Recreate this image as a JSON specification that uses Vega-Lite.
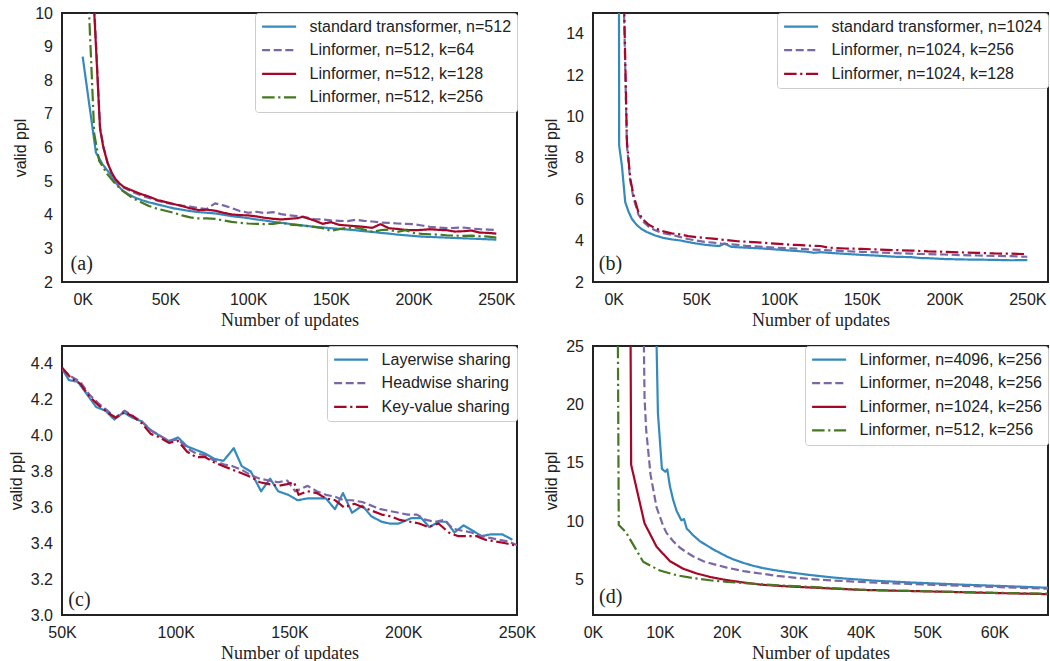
{
  "$schema": "https://vega.github.io/schema/vega-lite/v6.json",
  "background": "white",
  "padding": {"left": 7, "top": 4, "right": 0, "bottom": 0},
  "config": {
    "font": "Liberation Sans",
    "view": {"stroke": "#222222", "strokeWidth": 2},
    "axis": {"domain": false, "ticks": false, "grid": false, "tickCount": 30, "labelFont": "Liberation Sans", "labelFontSize": 16, "labelColor": "#222222", "labelPadding": 9.5, "labelFlush": false, "labelOverlap": false, "titleFontWeight": "normal", "titleColor": "#222222"},
    "axisX": {"titleFont": "Liberation Serif", "titleFontSize": 18, "titlePadding": 4},
    "axisY": {"titleFont": "Liberation Sans", "titleFontSize": 16, "titlePadding": 6},
    "legend": {"orient": "top-right", "offset": 0, "padding": 5.6, "strokeColor": "#cccccc", "fillColor": "#ffffff", "cornerRadius": 3, "labelFont": "Liberation Sans", "labelFontSize": 16, "labelColor": "#222222", "labelLimit": 400, "labelOffset": 12, "rowPadding": 7.6, "clipHeight": 16, "symbolSize": 1156, "symbolStrokeWidth": 2.2, "symbolType": "stroke"},
    "line": {"strokeWidth": 2.2, "clip": true, "strokeJoin": "round"}
  },
  "datasets": {
    "a": [
      {"series": "standard transformer, n=512", "updates": 0, "ppl": 8.7},
      {"series": "standard transformer, n=512", "updates": 8000, "ppl": 5.85},
      {"series": "standard transformer, n=512", "updates": 12000, "ppl": 5.5},
      {"series": "standard transformer, n=512", "updates": 16000, "ppl": 5.25},
      {"series": "standard transformer, n=512", "updates": 20000, "ppl": 4.95},
      {"series": "standard transformer, n=512", "updates": 24000, "ppl": 4.72},
      {"series": "standard transformer, n=512", "updates": 28000, "ppl": 4.6},
      {"series": "standard transformer, n=512", "updates": 32000, "ppl": 4.5},
      {"series": "standard transformer, n=512", "updates": 36000, "ppl": 4.43},
      {"series": "standard transformer, n=512", "updates": 40000, "ppl": 4.37},
      {"series": "standard transformer, n=512", "updates": 45000, "ppl": 4.31},
      {"series": "standard transformer, n=512", "updates": 50000, "ppl": 4.25},
      {"series": "standard transformer, n=512", "updates": 55000, "ppl": 4.19},
      {"series": "standard transformer, n=512", "updates": 60000, "ppl": 4.15},
      {"series": "standard transformer, n=512", "updates": 65000, "ppl": 4.11},
      {"series": "standard transformer, n=512", "updates": 70000, "ppl": 4.08},
      {"series": "standard transformer, n=512", "updates": 75000, "ppl": 4.06},
      {"series": "standard transformer, n=512", "updates": 80000, "ppl": 4.04},
      {"series": "standard transformer, n=512", "updates": 85000, "ppl": 4.0},
      {"series": "standard transformer, n=512", "updates": 90000, "ppl": 3.96},
      {"series": "standard transformer, n=512", "updates": 95000, "ppl": 3.93},
      {"series": "standard transformer, n=512", "updates": 100000, "ppl": 3.9},
      {"series": "standard transformer, n=512", "updates": 105000, "ppl": 3.86},
      {"series": "standard transformer, n=512", "updates": 110000, "ppl": 3.83},
      {"series": "standard transformer, n=512", "updates": 115000, "ppl": 3.79},
      {"series": "standard transformer, n=512", "updates": 120000, "ppl": 3.76},
      {"series": "standard transformer, n=512", "updates": 125000, "ppl": 3.73},
      {"series": "standard transformer, n=512", "updates": 130000, "ppl": 3.7},
      {"series": "standard transformer, n=512", "updates": 135000, "ppl": 3.67},
      {"series": "standard transformer, n=512", "updates": 140000, "ppl": 3.64},
      {"series": "standard transformer, n=512", "updates": 145000, "ppl": 3.62},
      {"series": "standard transformer, n=512", "updates": 150000, "ppl": 3.6},
      {"series": "standard transformer, n=512", "updates": 155000, "ppl": 3.58},
      {"series": "standard transformer, n=512", "updates": 160000, "ppl": 3.56},
      {"series": "standard transformer, n=512", "updates": 165000, "ppl": 3.54},
      {"series": "standard transformer, n=512", "updates": 170000, "ppl": 3.51},
      {"series": "standard transformer, n=512", "updates": 175000, "ppl": 3.49},
      {"series": "standard transformer, n=512", "updates": 180000, "ppl": 3.46},
      {"series": "standard transformer, n=512", "updates": 185000, "ppl": 3.44},
      {"series": "standard transformer, n=512", "updates": 190000, "ppl": 3.41},
      {"series": "standard transformer, n=512", "updates": 195000, "ppl": 3.39},
      {"series": "standard transformer, n=512", "updates": 200000, "ppl": 3.37},
      {"series": "standard transformer, n=512", "updates": 205000, "ppl": 3.35},
      {"series": "standard transformer, n=512", "updates": 210000, "ppl": 3.34},
      {"series": "standard transformer, n=512", "updates": 215000, "ppl": 3.33},
      {"series": "standard transformer, n=512", "updates": 220000, "ppl": 3.32},
      {"series": "standard transformer, n=512", "updates": 225000, "ppl": 3.31},
      {"series": "standard transformer, n=512", "updates": 230000, "ppl": 3.3},
      {"series": "standard transformer, n=512", "updates": 235000, "ppl": 3.29},
      {"series": "standard transformer, n=512", "updates": 240000, "ppl": 3.28},
      {"series": "standard transformer, n=512", "updates": 245000, "ppl": 3.27},
      {"series": "standard transformer, n=512", "updates": 250000, "ppl": 3.26},

      {"series": "Linformer, n=512, k=64", "updates": 6000, "ppl": 11.2},
      {"series": "Linformer, n=512, k=64", "updates": 10500, "ppl": 6.6},
      {"series": "Linformer, n=512, k=64", "updates": 12500, "ppl": 6.05},
      {"series": "Linformer, n=512, k=64", "updates": 15000, "ppl": 5.55},
      {"series": "Linformer, n=512, k=64", "updates": 17500, "ppl": 5.25},
      {"series": "Linformer, n=512, k=64", "updates": 20000, "ppl": 5.0},
      {"series": "Linformer, n=512, k=64", "updates": 25000, "ppl": 4.8},
      {"series": "Linformer, n=512, k=64", "updates": 30000, "ppl": 4.68},
      {"series": "Linformer, n=512, k=64", "updates": 35000, "ppl": 4.58},
      {"series": "Linformer, n=512, k=64", "updates": 40000, "ppl": 4.5},
      {"series": "Linformer, n=512, k=64", "updates": 45000, "ppl": 4.42},
      {"series": "Linformer, n=512, k=64", "updates": 50000, "ppl": 4.36},
      {"series": "Linformer, n=512, k=64", "updates": 55000, "ppl": 4.31},
      {"series": "Linformer, n=512, k=64", "updates": 60000, "ppl": 4.27},
      {"series": "Linformer, n=512, k=64", "updates": 65000, "ppl": 4.24},
      {"series": "Linformer, n=512, k=64", "updates": 70000, "ppl": 4.2},
      {"series": "Linformer, n=512, k=64", "updates": 75000, "ppl": 4.17},
      {"series": "Linformer, n=512, k=64", "updates": 80000, "ppl": 4.34},
      {"series": "Linformer, n=512, k=64", "updates": 85000, "ppl": 4.28},
      {"series": "Linformer, n=512, k=64", "updates": 90000, "ppl": 4.2},
      {"series": "Linformer, n=512, k=64", "updates": 95000, "ppl": 4.11},
      {"series": "Linformer, n=512, k=64", "updates": 100000, "ppl": 4.06},
      {"series": "Linformer, n=512, k=64", "updates": 105000, "ppl": 4.09},
      {"series": "Linformer, n=512, k=64", "updates": 110000, "ppl": 4.05},
      {"series": "Linformer, n=512, k=64", "updates": 115000, "ppl": 4.08},
      {"series": "Linformer, n=512, k=64", "updates": 120000, "ppl": 4.02},
      {"series": "Linformer, n=512, k=64", "updates": 125000, "ppl": 3.98},
      {"series": "Linformer, n=512, k=64", "updates": 130000, "ppl": 3.96},
      {"series": "Linformer, n=512, k=64", "updates": 135000, "ppl": 3.92},
      {"series": "Linformer, n=512, k=64", "updates": 140000, "ppl": 3.87},
      {"series": "Linformer, n=512, k=64", "updates": 145000, "ppl": 3.86},
      {"series": "Linformer, n=512, k=64", "updates": 150000, "ppl": 3.83},
      {"series": "Linformer, n=512, k=64", "updates": 155000, "ppl": 3.82},
      {"series": "Linformer, n=512, k=64", "updates": 160000, "ppl": 3.81},
      {"series": "Linformer, n=512, k=64", "updates": 165000, "ppl": 3.85},
      {"series": "Linformer, n=512, k=64", "updates": 170000, "ppl": 3.82},
      {"series": "Linformer, n=512, k=64", "updates": 175000, "ppl": 3.8},
      {"series": "Linformer, n=512, k=64", "updates": 180000, "ppl": 3.77},
      {"series": "Linformer, n=512, k=64", "updates": 185000, "ppl": 3.76},
      {"series": "Linformer, n=512, k=64", "updates": 190000, "ppl": 3.74},
      {"series": "Linformer, n=512, k=64", "updates": 195000, "ppl": 3.73},
      {"series": "Linformer, n=512, k=64", "updates": 200000, "ppl": 3.72},
      {"series": "Linformer, n=512, k=64", "updates": 205000, "ppl": 3.68},
      {"series": "Linformer, n=512, k=64", "updates": 210000, "ppl": 3.64},
      {"series": "Linformer, n=512, k=64", "updates": 215000, "ppl": 3.62},
      {"series": "Linformer, n=512, k=64", "updates": 220000, "ppl": 3.6},
      {"series": "Linformer, n=512, k=64", "updates": 225000, "ppl": 3.61},
      {"series": "Linformer, n=512, k=64", "updates": 230000, "ppl": 3.62},
      {"series": "Linformer, n=512, k=64", "updates": 235000, "ppl": 3.59},
      {"series": "Linformer, n=512, k=64", "updates": 240000, "ppl": 3.57},
      {"series": "Linformer, n=512, k=64", "updates": 245000, "ppl": 3.56},
      {"series": "Linformer, n=512, k=64", "updates": 250000, "ppl": 3.55},

      {"series": "Linformer, n=512, k=128", "updates": 6000, "ppl": 11.0},
      {"series": "Linformer, n=512, k=128", "updates": 10500, "ppl": 6.55},
      {"series": "Linformer, n=512, k=128", "updates": 12500, "ppl": 6.0},
      {"series": "Linformer, n=512, k=128", "updates": 15000, "ppl": 5.55},
      {"series": "Linformer, n=512, k=128", "updates": 17500, "ppl": 5.25},
      {"series": "Linformer, n=512, k=128", "updates": 20000, "ppl": 5.05},
      {"series": "Linformer, n=512, k=128", "updates": 22500, "ppl": 4.92},
      {"series": "Linformer, n=512, k=128", "updates": 25000, "ppl": 4.82},
      {"series": "Linformer, n=512, k=128", "updates": 30000, "ppl": 4.72},
      {"series": "Linformer, n=512, k=128", "updates": 35000, "ppl": 4.62},
      {"series": "Linformer, n=512, k=128", "updates": 40000, "ppl": 4.54},
      {"series": "Linformer, n=512, k=128", "updates": 45000, "ppl": 4.44},
      {"series": "Linformer, n=512, k=128", "updates": 50000, "ppl": 4.38},
      {"series": "Linformer, n=512, k=128", "updates": 55000, "ppl": 4.32},
      {"series": "Linformer, n=512, k=128", "updates": 60000, "ppl": 4.26},
      {"series": "Linformer, n=512, k=128", "updates": 65000, "ppl": 4.19},
      {"series": "Linformer, n=512, k=128", "updates": 70000, "ppl": 4.14},
      {"series": "Linformer, n=512, k=128", "updates": 75000, "ppl": 4.15},
      {"series": "Linformer, n=512, k=128", "updates": 80000, "ppl": 4.12},
      {"series": "Linformer, n=512, k=128", "updates": 85000, "ppl": 4.06},
      {"series": "Linformer, n=512, k=128", "updates": 90000, "ppl": 4.01},
      {"series": "Linformer, n=512, k=128", "updates": 95000, "ppl": 3.99},
      {"series": "Linformer, n=512, k=128", "updates": 100000, "ppl": 3.98},
      {"series": "Linformer, n=512, k=128", "updates": 105000, "ppl": 3.95},
      {"series": "Linformer, n=512, k=128", "updates": 110000, "ppl": 3.91},
      {"series": "Linformer, n=512, k=128", "updates": 115000, "ppl": 3.88},
      {"series": "Linformer, n=512, k=128", "updates": 120000, "ppl": 3.86},
      {"series": "Linformer, n=512, k=128", "updates": 125000, "ppl": 3.88},
      {"series": "Linformer, n=512, k=128", "updates": 130000, "ppl": 3.9},
      {"series": "Linformer, n=512, k=128", "updates": 133000, "ppl": 3.94},
      {"series": "Linformer, n=512, k=128", "updates": 140000, "ppl": 3.83},
      {"series": "Linformer, n=512, k=128", "updates": 145000, "ppl": 3.73},
      {"series": "Linformer, n=512, k=128", "updates": 150000, "ppl": 3.78},
      {"series": "Linformer, n=512, k=128", "updates": 155000, "ppl": 3.7},
      {"series": "Linformer, n=512, k=128", "updates": 160000, "ppl": 3.68},
      {"series": "Linformer, n=512, k=128", "updates": 165000, "ppl": 3.66},
      {"series": "Linformer, n=512, k=128", "updates": 170000, "ppl": 3.64},
      {"series": "Linformer, n=512, k=128", "updates": 175000, "ppl": 3.61},
      {"series": "Linformer, n=512, k=128", "updates": 180000, "ppl": 3.72},
      {"series": "Linformer, n=512, k=128", "updates": 185000, "ppl": 3.6},
      {"series": "Linformer, n=512, k=128", "updates": 190000, "ppl": 3.58},
      {"series": "Linformer, n=512, k=128", "updates": 195000, "ppl": 3.55},
      {"series": "Linformer, n=512, k=128", "updates": 200000, "ppl": 3.54},
      {"series": "Linformer, n=512, k=128", "updates": 205000, "ppl": 3.55},
      {"series": "Linformer, n=512, k=128", "updates": 210000, "ppl": 3.57},
      {"series": "Linformer, n=512, k=128", "updates": 215000, "ppl": 3.55},
      {"series": "Linformer, n=512, k=128", "updates": 220000, "ppl": 3.54},
      {"series": "Linformer, n=512, k=128", "updates": 225000, "ppl": 3.5},
      {"series": "Linformer, n=512, k=128", "updates": 230000, "ppl": 3.51},
      {"series": "Linformer, n=512, k=128", "updates": 235000, "ppl": 3.53},
      {"series": "Linformer, n=512, k=128", "updates": 240000, "ppl": 3.47},
      {"series": "Linformer, n=512, k=128", "updates": 245000, "ppl": 3.46},
      {"series": "Linformer, n=512, k=128", "updates": 250000, "ppl": 3.44},

      {"series": "Linformer, n=512, k=256", "updates": 3000, "ppl": 11.0},
      {"series": "Linformer, n=512, k=256", "updates": 7000, "ppl": 6.4},
      {"series": "Linformer, n=512, k=256", "updates": 10000, "ppl": 5.6},
      {"series": "Linformer, n=512, k=256", "updates": 15000, "ppl": 5.2},
      {"series": "Linformer, n=512, k=256", "updates": 20000, "ppl": 4.9},
      {"series": "Linformer, n=512, k=256", "updates": 25000, "ppl": 4.68},
      {"series": "Linformer, n=512, k=256", "updates": 30000, "ppl": 4.5},
      {"series": "Linformer, n=512, k=256", "updates": 35000, "ppl": 4.38},
      {"series": "Linformer, n=512, k=256", "updates": 40000, "ppl": 4.26},
      {"series": "Linformer, n=512, k=256", "updates": 45000, "ppl": 4.18},
      {"series": "Linformer, n=512, k=256", "updates": 50000, "ppl": 4.12},
      {"series": "Linformer, n=512, k=256", "updates": 55000, "ppl": 4.06},
      {"series": "Linformer, n=512, k=256", "updates": 60000, "ppl": 3.98},
      {"series": "Linformer, n=512, k=256", "updates": 65000, "ppl": 3.92},
      {"series": "Linformer, n=512, k=256", "updates": 70000, "ppl": 3.89},
      {"series": "Linformer, n=512, k=256", "updates": 75000, "ppl": 3.89},
      {"series": "Linformer, n=512, k=256", "updates": 80000, "ppl": 3.88},
      {"series": "Linformer, n=512, k=256", "updates": 85000, "ppl": 3.83},
      {"series": "Linformer, n=512, k=256", "updates": 90000, "ppl": 3.79},
      {"series": "Linformer, n=512, k=256", "updates": 95000, "ppl": 3.76},
      {"series": "Linformer, n=512, k=256", "updates": 100000, "ppl": 3.74},
      {"series": "Linformer, n=512, k=256", "updates": 105000, "ppl": 3.73},
      {"series": "Linformer, n=512, k=256", "updates": 110000, "ppl": 3.72},
      {"series": "Linformer, n=512, k=256", "updates": 115000, "ppl": 3.73},
      {"series": "Linformer, n=512, k=256", "updates": 120000, "ppl": 3.77},
      {"series": "Linformer, n=512, k=256", "updates": 125000, "ppl": 3.71},
      {"series": "Linformer, n=512, k=256", "updates": 130000, "ppl": 3.69},
      {"series": "Linformer, n=512, k=256", "updates": 135000, "ppl": 3.67},
      {"series": "Linformer, n=512, k=256", "updates": 140000, "ppl": 3.64},
      {"series": "Linformer, n=512, k=256", "updates": 145000, "ppl": 3.6},
      {"series": "Linformer, n=512, k=256", "updates": 150000, "ppl": 3.52},
      {"series": "Linformer, n=512, k=256", "updates": 155000, "ppl": 3.57},
      {"series": "Linformer, n=512, k=256", "updates": 160000, "ppl": 3.61},
      {"series": "Linformer, n=512, k=256", "updates": 165000, "ppl": 3.62},
      {"series": "Linformer, n=512, k=256", "updates": 170000, "ppl": 3.56},
      {"series": "Linformer, n=512, k=256", "updates": 175000, "ppl": 3.49},
      {"series": "Linformer, n=512, k=256", "updates": 180000, "ppl": 3.54},
      {"series": "Linformer, n=512, k=256", "updates": 185000, "ppl": 3.56},
      {"series": "Linformer, n=512, k=256", "updates": 190000, "ppl": 3.49},
      {"series": "Linformer, n=512, k=256", "updates": 195000, "ppl": 3.54},
      {"series": "Linformer, n=512, k=256", "updates": 200000, "ppl": 3.46},
      {"series": "Linformer, n=512, k=256", "updates": 205000, "ppl": 3.43},
      {"series": "Linformer, n=512, k=256", "updates": 210000, "ppl": 3.42},
      {"series": "Linformer, n=512, k=256", "updates": 215000, "ppl": 3.41},
      {"series": "Linformer, n=512, k=256", "updates": 220000, "ppl": 3.39},
      {"series": "Linformer, n=512, k=256", "updates": 225000, "ppl": 3.38},
      {"series": "Linformer, n=512, k=256", "updates": 230000, "ppl": 3.37},
      {"series": "Linformer, n=512, k=256", "updates": 235000, "ppl": 3.38},
      {"series": "Linformer, n=512, k=256", "updates": 240000, "ppl": 3.36},
      {"series": "Linformer, n=512, k=256", "updates": 245000, "ppl": 3.35},
      {"series": "Linformer, n=512, k=256", "updates": 250000, "ppl": 3.32}
    ],
    "b": [
      {"series": "standard transformer, n=1024", "updates": 3000, "ppl": 30},
      {"series": "standard transformer, n=1024", "updates": 3300, "ppl": 8.6},
      {"series": "standard transformer, n=1024", "updates": 5000, "ppl": 7.6},
      {"series": "standard transformer, n=1024", "updates": 7000, "ppl": 5.85},
      {"series": "standard transformer, n=1024", "updates": 9000, "ppl": 5.4},
      {"series": "standard transformer, n=1024", "updates": 11000, "ppl": 5.05},
      {"series": "standard transformer, n=1024", "updates": 14000, "ppl": 4.75},
      {"series": "standard transformer, n=1024", "updates": 17000, "ppl": 4.55},
      {"series": "standard transformer, n=1024", "updates": 20000, "ppl": 4.42},
      {"series": "standard transformer, n=1024", "updates": 25000, "ppl": 4.25},
      {"series": "standard transformer, n=1024", "updates": 30000, "ppl": 4.13},
      {"series": "standard transformer, n=1024", "updates": 35000, "ppl": 4.06},
      {"series": "standard transformer, n=1024", "updates": 40000, "ppl": 4.01},
      {"series": "standard transformer, n=1024", "updates": 45000, "ppl": 3.93},
      {"series": "standard transformer, n=1024", "updates": 50000, "ppl": 3.86},
      {"series": "standard transformer, n=1024", "updates": 55000, "ppl": 3.8},
      {"series": "standard transformer, n=1024", "updates": 60000, "ppl": 3.76},
      {"series": "standard transformer, n=1024", "updates": 64000, "ppl": 3.74},
      {"series": "standard transformer, n=1024", "updates": 67000, "ppl": 3.86},
      {"series": "standard transformer, n=1024", "updates": 71000, "ppl": 3.7},
      {"series": "standard transformer, n=1024", "updates": 75000, "ppl": 3.68},
      {"series": "standard transformer, n=1024", "updates": 80000, "ppl": 3.66},
      {"series": "standard transformer, n=1024", "updates": 90000, "ppl": 3.62},
      {"series": "standard transformer, n=1024", "updates": 100000, "ppl": 3.56},
      {"series": "standard transformer, n=1024", "updates": 110000, "ppl": 3.5},
      {"series": "standard transformer, n=1024", "updates": 117000, "ppl": 3.46},
      {"series": "standard transformer, n=1024", "updates": 121000, "ppl": 3.41},
      {"series": "standard transformer, n=1024", "updates": 125000, "ppl": 3.44},
      {"series": "standard transformer, n=1024", "updates": 130000, "ppl": 3.41},
      {"series": "standard transformer, n=1024", "updates": 140000, "ppl": 3.36},
      {"series": "standard transformer, n=1024", "updates": 150000, "ppl": 3.31},
      {"series": "standard transformer, n=1024", "updates": 160000, "ppl": 3.27},
      {"series": "standard transformer, n=1024", "updates": 170000, "ppl": 3.22},
      {"series": "standard transformer, n=1024", "updates": 180000, "ppl": 3.2},
      {"series": "standard transformer, n=1024", "updates": 185000, "ppl": 3.16},
      {"series": "standard transformer, n=1024", "updates": 190000, "ppl": 3.15},
      {"series": "standard transformer, n=1024", "updates": 200000, "ppl": 3.11},
      {"series": "standard transformer, n=1024", "updates": 210000, "ppl": 3.09},
      {"series": "standard transformer, n=1024", "updates": 220000, "ppl": 3.08},
      {"series": "standard transformer, n=1024", "updates": 230000, "ppl": 3.07},
      {"series": "standard transformer, n=1024", "updates": 240000, "ppl": 3.05},
      {"series": "standard transformer, n=1024", "updates": 250000, "ppl": 3.06},

      {"series": "Linformer, n=1024, k=256", "updates": 6000, "ppl": 16.0},
      {"series": "Linformer, n=1024, k=256", "updates": 8000, "ppl": 8.6},
      {"series": "Linformer, n=1024, k=256", "updates": 10000, "ppl": 6.9},
      {"series": "Linformer, n=1024, k=256", "updates": 12000, "ppl": 6.05},
      {"series": "Linformer, n=1024, k=256", "updates": 15000, "ppl": 5.25},
      {"series": "Linformer, n=1024, k=256", "updates": 18000, "ppl": 4.9},
      {"series": "Linformer, n=1024, k=256", "updates": 21000, "ppl": 4.68},
      {"series": "Linformer, n=1024, k=256", "updates": 25000, "ppl": 4.5},
      {"series": "Linformer, n=1024, k=256", "updates": 30000, "ppl": 4.36},
      {"series": "Linformer, n=1024, k=256", "updates": 35000, "ppl": 4.28},
      {"series": "Linformer, n=1024, k=256", "updates": 40000, "ppl": 4.18},
      {"series": "Linformer, n=1024, k=256", "updates": 45000, "ppl": 4.08},
      {"series": "Linformer, n=1024, k=256", "updates": 50000, "ppl": 4.0},
      {"series": "Linformer, n=1024, k=256", "updates": 55000, "ppl": 3.94},
      {"series": "Linformer, n=1024, k=256", "updates": 60000, "ppl": 3.9},
      {"series": "Linformer, n=1024, k=256", "updates": 65000, "ppl": 3.86},
      {"series": "Linformer, n=1024, k=256", "updates": 70000, "ppl": 3.83},
      {"series": "Linformer, n=1024, k=256", "updates": 75000, "ppl": 3.79},
      {"series": "Linformer, n=1024, k=256", "updates": 80000, "ppl": 3.75},
      {"series": "Linformer, n=1024, k=256", "updates": 90000, "ppl": 3.7},
      {"series": "Linformer, n=1024, k=256", "updates": 100000, "ppl": 3.65},
      {"series": "Linformer, n=1024, k=256", "updates": 110000, "ppl": 3.61},
      {"series": "Linformer, n=1024, k=256", "updates": 120000, "ppl": 3.57},
      {"series": "Linformer, n=1024, k=256", "updates": 130000, "ppl": 3.53},
      {"series": "Linformer, n=1024, k=256", "updates": 140000, "ppl": 3.49},
      {"series": "Linformer, n=1024, k=256", "updates": 150000, "ppl": 3.46},
      {"series": "Linformer, n=1024, k=256", "updates": 160000, "ppl": 3.43},
      {"series": "Linformer, n=1024, k=256", "updates": 170000, "ppl": 3.4},
      {"series": "Linformer, n=1024, k=256", "updates": 180000, "ppl": 3.37},
      {"series": "Linformer, n=1024, k=256", "updates": 190000, "ppl": 3.35},
      {"series": "Linformer, n=1024, k=256", "updates": 200000, "ppl": 3.33},
      {"series": "Linformer, n=1024, k=256", "updates": 210000, "ppl": 3.3},
      {"series": "Linformer, n=1024, k=256", "updates": 220000, "ppl": 3.28},
      {"series": "Linformer, n=1024, k=256", "updates": 230000, "ppl": 3.26},
      {"series": "Linformer, n=1024, k=256", "updates": 240000, "ppl": 3.25},
      {"series": "Linformer, n=1024, k=256", "updates": 250000, "ppl": 3.22},

      {"series": "Linformer, n=1024, k=128", "updates": 6000, "ppl": 16.5},
      {"series": "Linformer, n=1024, k=128", "updates": 8000, "ppl": 8.8},
      {"series": "Linformer, n=1024, k=128", "updates": 10000, "ppl": 7.0},
      {"series": "Linformer, n=1024, k=128", "updates": 12000, "ppl": 6.2},
      {"series": "Linformer, n=1024, k=128", "updates": 15000, "ppl": 5.35},
      {"series": "Linformer, n=1024, k=128", "updates": 18000, "ppl": 5.0},
      {"series": "Linformer, n=1024, k=128", "updates": 21000, "ppl": 4.78},
      {"series": "Linformer, n=1024, k=128", "updates": 25000, "ppl": 4.6},
      {"series": "Linformer, n=1024, k=128", "updates": 30000, "ppl": 4.45},
      {"series": "Linformer, n=1024, k=128", "updates": 35000, "ppl": 4.35},
      {"series": "Linformer, n=1024, k=128", "updates": 40000, "ppl": 4.3},
      {"series": "Linformer, n=1024, k=128", "updates": 45000, "ppl": 4.22},
      {"series": "Linformer, n=1024, k=128", "updates": 50000, "ppl": 4.17},
      {"series": "Linformer, n=1024, k=128", "updates": 55000, "ppl": 4.13},
      {"series": "Linformer, n=1024, k=128", "updates": 60000, "ppl": 4.1},
      {"series": "Linformer, n=1024, k=128", "updates": 65000, "ppl": 4.05},
      {"series": "Linformer, n=1024, k=128", "updates": 70000, "ppl": 4.01},
      {"series": "Linformer, n=1024, k=128", "updates": 75000, "ppl": 3.97},
      {"series": "Linformer, n=1024, k=128", "updates": 80000, "ppl": 3.95},
      {"series": "Linformer, n=1024, k=128", "updates": 90000, "ppl": 3.9},
      {"series": "Linformer, n=1024, k=128", "updates": 100000, "ppl": 3.84},
      {"series": "Linformer, n=1024, k=128", "updates": 110000, "ppl": 3.79},
      {"series": "Linformer, n=1024, k=128", "updates": 120000, "ppl": 3.75},
      {"series": "Linformer, n=1024, k=128", "updates": 125000, "ppl": 3.74},
      {"series": "Linformer, n=1024, k=128", "updates": 130000, "ppl": 3.66},
      {"series": "Linformer, n=1024, k=128", "updates": 140000, "ppl": 3.62},
      {"series": "Linformer, n=1024, k=128", "updates": 150000, "ppl": 3.6},
      {"series": "Linformer, n=1024, k=128", "updates": 160000, "ppl": 3.57},
      {"series": "Linformer, n=1024, k=128", "updates": 170000, "ppl": 3.54},
      {"series": "Linformer, n=1024, k=128", "updates": 180000, "ppl": 3.52},
      {"series": "Linformer, n=1024, k=128", "updates": 190000, "ppl": 3.48},
      {"series": "Linformer, n=1024, k=128", "updates": 200000, "ppl": 3.46},
      {"series": "Linformer, n=1024, k=128", "updates": 210000, "ppl": 3.43},
      {"series": "Linformer, n=1024, k=128", "updates": 220000, "ppl": 3.41},
      {"series": "Linformer, n=1024, k=128", "updates": 230000, "ppl": 3.38},
      {"series": "Linformer, n=1024, k=128", "updates": 240000, "ppl": 3.37},
      {"series": "Linformer, n=1024, k=128", "updates": 250000, "ppl": 3.35}
    ],
    "c": [
      {"series": "Layerwise sharing", "updates": 50000, "ppl": 4.375},
      {"series": "Layerwise sharing", "updates": 53000, "ppl": 4.31},
      {"series": "Layerwise sharing", "updates": 57000, "ppl": 4.3},
      {"series": "Layerwise sharing", "updates": 61000, "ppl": 4.23},
      {"series": "Layerwise sharing", "updates": 65000, "ppl": 4.16},
      {"series": "Layerwise sharing", "updates": 69000, "ppl": 4.14},
      {"series": "Layerwise sharing", "updates": 73000, "ppl": 4.09},
      {"series": "Layerwise sharing", "updates": 77000, "ppl": 4.13},
      {"series": "Layerwise sharing", "updates": 81000, "ppl": 4.1},
      {"series": "Layerwise sharing", "updates": 85000, "ppl": 4.08},
      {"series": "Layerwise sharing", "updates": 89000, "ppl": 4.03},
      {"series": "Layerwise sharing", "updates": 93000, "ppl": 4.0},
      {"series": "Layerwise sharing", "updates": 97000, "ppl": 3.97},
      {"series": "Layerwise sharing", "updates": 101000, "ppl": 3.99},
      {"series": "Layerwise sharing", "updates": 105000, "ppl": 3.94},
      {"series": "Layerwise sharing", "updates": 109000, "ppl": 3.92},
      {"series": "Layerwise sharing", "updates": 113000, "ppl": 3.9},
      {"series": "Layerwise sharing", "updates": 117000, "ppl": 3.87},
      {"series": "Layerwise sharing", "updates": 121000, "ppl": 3.86},
      {"series": "Layerwise sharing", "updates": 125500, "ppl": 3.93},
      {"series": "Layerwise sharing", "updates": 129000, "ppl": 3.83},
      {"series": "Layerwise sharing", "updates": 133000, "ppl": 3.8},
      {"series": "Layerwise sharing", "updates": 137500, "ppl": 3.69},
      {"series": "Layerwise sharing", "updates": 141500, "ppl": 3.76},
      {"series": "Layerwise sharing", "updates": 145000, "ppl": 3.69},
      {"series": "Layerwise sharing", "updates": 149500, "ppl": 3.67},
      {"series": "Layerwise sharing", "updates": 153500, "ppl": 3.64},
      {"series": "Layerwise sharing", "updates": 158000, "ppl": 3.65},
      {"series": "Layerwise sharing", "updates": 162000, "ppl": 3.65},
      {"series": "Layerwise sharing", "updates": 166000, "ppl": 3.65},
      {"series": "Layerwise sharing", "updates": 170000, "ppl": 3.59},
      {"series": "Layerwise sharing", "updates": 173500, "ppl": 3.68},
      {"series": "Layerwise sharing", "updates": 177500, "ppl": 3.57},
      {"series": "Layerwise sharing", "updates": 182000, "ppl": 3.61},
      {"series": "Layerwise sharing", "updates": 186000, "ppl": 3.55},
      {"series": "Layerwise sharing", "updates": 190500, "ppl": 3.52},
      {"series": "Layerwise sharing", "updates": 194000, "ppl": 3.51},
      {"series": "Layerwise sharing", "updates": 198000, "ppl": 3.51},
      {"series": "Layerwise sharing", "updates": 203500, "ppl": 3.54},
      {"series": "Layerwise sharing", "updates": 208000, "ppl": 3.54},
      {"series": "Layerwise sharing", "updates": 211500, "ppl": 3.49},
      {"series": "Layerwise sharing", "updates": 215500, "ppl": 3.52},
      {"series": "Layerwise sharing", "updates": 219000, "ppl": 3.52},
      {"series": "Layerwise sharing", "updates": 222500, "ppl": 3.46},
      {"series": "Layerwise sharing", "updates": 226500, "ppl": 3.5},
      {"series": "Layerwise sharing", "updates": 230500, "ppl": 3.47},
      {"series": "Layerwise sharing", "updates": 234500, "ppl": 3.44},
      {"series": "Layerwise sharing", "updates": 238500, "ppl": 3.45},
      {"series": "Layerwise sharing", "updates": 243500, "ppl": 3.45},
      {"series": "Layerwise sharing", "updates": 248000, "ppl": 3.42},

      {"series": "Headwise sharing", "updates": 50000, "ppl": 4.37},
      {"series": "Headwise sharing", "updates": 54000, "ppl": 4.33},
      {"series": "Headwise sharing", "updates": 58000, "ppl": 4.3},
      {"series": "Headwise sharing", "updates": 62000, "ppl": 4.23},
      {"series": "Headwise sharing", "updates": 66000, "ppl": 4.18},
      {"series": "Headwise sharing", "updates": 70000, "ppl": 4.14},
      {"series": "Headwise sharing", "updates": 73500, "ppl": 4.1},
      {"series": "Headwise sharing", "updates": 77500, "ppl": 4.14},
      {"series": "Headwise sharing", "updates": 81000, "ppl": 4.11},
      {"series": "Headwise sharing", "updates": 85000, "ppl": 4.08},
      {"series": "Headwise sharing", "updates": 89000, "ppl": 4.03},
      {"series": "Headwise sharing", "updates": 93000, "ppl": 4.0},
      {"series": "Headwise sharing", "updates": 97000, "ppl": 3.97},
      {"series": "Headwise sharing", "updates": 101000, "ppl": 3.98},
      {"series": "Headwise sharing", "updates": 105000, "ppl": 3.93},
      {"series": "Headwise sharing", "updates": 109000, "ppl": 3.9},
      {"series": "Headwise sharing", "updates": 113000, "ppl": 3.89},
      {"series": "Headwise sharing", "updates": 117000, "ppl": 3.86},
      {"series": "Headwise sharing", "updates": 121000, "ppl": 3.84},
      {"series": "Headwise sharing", "updates": 125000, "ppl": 3.83},
      {"series": "Headwise sharing", "updates": 129000, "ppl": 3.81},
      {"series": "Headwise sharing", "updates": 133000, "ppl": 3.78},
      {"series": "Headwise sharing", "updates": 137000, "ppl": 3.76},
      {"series": "Headwise sharing", "updates": 141000, "ppl": 3.75},
      {"series": "Headwise sharing", "updates": 145000, "ppl": 3.74},
      {"series": "Headwise sharing", "updates": 149000, "ppl": 3.75},
      {"series": "Headwise sharing", "updates": 152500, "ppl": 3.69},
      {"series": "Headwise sharing", "updates": 158000, "ppl": 3.72},
      {"series": "Headwise sharing", "updates": 162000, "ppl": 3.69},
      {"series": "Headwise sharing", "updates": 166000, "ppl": 3.67},
      {"series": "Headwise sharing", "updates": 170000, "ppl": 3.66},
      {"series": "Headwise sharing", "updates": 174000, "ppl": 3.64},
      {"series": "Headwise sharing", "updates": 177500, "ppl": 3.64},
      {"series": "Headwise sharing", "updates": 182000, "ppl": 3.63},
      {"series": "Headwise sharing", "updates": 186000, "ppl": 3.61},
      {"series": "Headwise sharing", "updates": 190000, "ppl": 3.59},
      {"series": "Headwise sharing", "updates": 194000, "ppl": 3.58},
      {"series": "Headwise sharing", "updates": 198000, "ppl": 3.57},
      {"series": "Headwise sharing", "updates": 202000, "ppl": 3.56},
      {"series": "Headwise sharing", "updates": 206000, "ppl": 3.56},
      {"series": "Headwise sharing", "updates": 210000, "ppl": 3.53},
      {"series": "Headwise sharing", "updates": 214000, "ppl": 3.52},
      {"series": "Headwise sharing", "updates": 218000, "ppl": 3.53},
      {"series": "Headwise sharing", "updates": 222000, "ppl": 3.48},
      {"series": "Headwise sharing", "updates": 226000, "ppl": 3.47},
      {"series": "Headwise sharing", "updates": 230000, "ppl": 3.46},
      {"series": "Headwise sharing", "updates": 234000, "ppl": 3.44},
      {"series": "Headwise sharing", "updates": 238000, "ppl": 3.43},
      {"series": "Headwise sharing", "updates": 242000, "ppl": 3.42},
      {"series": "Headwise sharing", "updates": 246000, "ppl": 3.41},
      {"series": "Headwise sharing", "updates": 250000, "ppl": 3.39},

      {"series": "Key-value sharing", "updates": 50000, "ppl": 4.38},
      {"series": "Key-value sharing", "updates": 54000, "ppl": 4.32},
      {"series": "Key-value sharing", "updates": 58000, "ppl": 4.29},
      {"series": "Key-value sharing", "updates": 62000, "ppl": 4.22},
      {"series": "Key-value sharing", "updates": 66000, "ppl": 4.17},
      {"series": "Key-value sharing", "updates": 70000, "ppl": 4.13},
      {"series": "Key-value sharing", "updates": 73500, "ppl": 4.1},
      {"series": "Key-value sharing", "updates": 77500, "ppl": 4.13},
      {"series": "Key-value sharing", "updates": 81000, "ppl": 4.11},
      {"series": "Key-value sharing", "updates": 85000, "ppl": 4.07},
      {"series": "Key-value sharing", "updates": 89000, "ppl": 4.01},
      {"series": "Key-value sharing", "updates": 93000, "ppl": 3.99},
      {"series": "Key-value sharing", "updates": 97000, "ppl": 3.96},
      {"series": "Key-value sharing", "updates": 101000, "ppl": 3.97},
      {"series": "Key-value sharing", "updates": 105000, "ppl": 3.91},
      {"series": "Key-value sharing", "updates": 109000, "ppl": 3.88},
      {"series": "Key-value sharing", "updates": 113000, "ppl": 3.88},
      {"series": "Key-value sharing", "updates": 117000, "ppl": 3.85},
      {"series": "Key-value sharing", "updates": 121000, "ppl": 3.83},
      {"series": "Key-value sharing", "updates": 125000, "ppl": 3.81},
      {"series": "Key-value sharing", "updates": 129000, "ppl": 3.79},
      {"series": "Key-value sharing", "updates": 133000, "ppl": 3.77},
      {"series": "Key-value sharing", "updates": 137000, "ppl": 3.74},
      {"series": "Key-value sharing", "updates": 141000, "ppl": 3.73},
      {"series": "Key-value sharing", "updates": 145000, "ppl": 3.72},
      {"series": "Key-value sharing", "updates": 149000, "ppl": 3.73},
      {"series": "Key-value sharing", "updates": 152000, "ppl": 3.74},
      {"series": "Key-value sharing", "updates": 154000, "ppl": 3.67},
      {"series": "Key-value sharing", "updates": 158000, "ppl": 3.69},
      {"series": "Key-value sharing", "updates": 162000, "ppl": 3.68},
      {"series": "Key-value sharing", "updates": 166000, "ppl": 3.65},
      {"series": "Key-value sharing", "updates": 170000, "ppl": 3.64},
      {"series": "Key-value sharing", "updates": 174000, "ppl": 3.6},
      {"series": "Key-value sharing", "updates": 178500, "ppl": 3.62},
      {"series": "Key-value sharing", "updates": 182500, "ppl": 3.6},
      {"series": "Key-value sharing", "updates": 186500, "ppl": 3.58},
      {"series": "Key-value sharing", "updates": 190500, "ppl": 3.56},
      {"series": "Key-value sharing", "updates": 194500, "ppl": 3.55},
      {"series": "Key-value sharing", "updates": 198500, "ppl": 3.53},
      {"series": "Key-value sharing", "updates": 203000, "ppl": 3.52},
      {"series": "Key-value sharing", "updates": 207000, "ppl": 3.51},
      {"series": "Key-value sharing", "updates": 211000, "ppl": 3.49},
      {"series": "Key-value sharing", "updates": 215500, "ppl": 3.51},
      {"series": "Key-value sharing", "updates": 220000, "ppl": 3.46},
      {"series": "Key-value sharing", "updates": 224000, "ppl": 3.44},
      {"series": "Key-value sharing", "updates": 228000, "ppl": 3.44},
      {"series": "Key-value sharing", "updates": 232000, "ppl": 3.44},
      {"series": "Key-value sharing", "updates": 236000, "ppl": 3.42},
      {"series": "Key-value sharing", "updates": 240500, "ppl": 3.41},
      {"series": "Key-value sharing", "updates": 245000, "ppl": 3.4},
      {"series": "Key-value sharing", "updates": 250000, "ppl": 3.385}
    ],
    "d": [
      {"series": "Linformer, n=4096, k=256", "updates": 9000, "ppl": 40},
      {"series": "Linformer, n=4096, k=256", "updates": 9700, "ppl": 19.3},
      {"series": "Linformer, n=4096, k=256", "updates": 10300, "ppl": 14.5},
      {"series": "Linformer, n=4096, k=256", "updates": 10800, "ppl": 14.25},
      {"series": "Linformer, n=4096, k=256", "updates": 11100, "ppl": 14.45},
      {"series": "Linformer, n=4096, k=256", "updates": 11500, "ppl": 13.0},
      {"series": "Linformer, n=4096, k=256", "updates": 12000, "ppl": 11.8},
      {"series": "Linformer, n=4096, k=256", "updates": 12500, "ppl": 10.9},
      {"series": "Linformer, n=4096, k=256", "updates": 13200, "ppl": 10.1},
      {"series": "Linformer, n=4096, k=256", "updates": 13600, "ppl": 10.2},
      {"series": "Linformer, n=4096, k=256", "updates": 14000, "ppl": 9.4},
      {"series": "Linformer, n=4096, k=256", "updates": 15000, "ppl": 8.8},
      {"series": "Linformer, n=4096, k=256", "updates": 16000, "ppl": 8.3},
      {"series": "Linformer, n=4096, k=256", "updates": 17000, "ppl": 7.95},
      {"series": "Linformer, n=4096, k=256", "updates": 18000, "ppl": 7.6},
      {"series": "Linformer, n=4096, k=256", "updates": 19000, "ppl": 7.3},
      {"series": "Linformer, n=4096, k=256", "updates": 20000, "ppl": 7.0},
      {"series": "Linformer, n=4096, k=256", "updates": 21000, "ppl": 6.75},
      {"series": "Linformer, n=4096, k=256", "updates": 22500, "ppl": 6.45},
      {"series": "Linformer, n=4096, k=256", "updates": 24000, "ppl": 6.2},
      {"series": "Linformer, n=4096, k=256", "updates": 25500, "ppl": 6.0},
      {"series": "Linformer, n=4096, k=256", "updates": 27000, "ppl": 5.85},
      {"series": "Linformer, n=4096, k=256", "updates": 28500, "ppl": 5.72},
      {"series": "Linformer, n=4096, k=256", "updates": 30000, "ppl": 5.6},
      {"series": "Linformer, n=4096, k=256", "updates": 32000, "ppl": 5.45},
      {"series": "Linformer, n=4096, k=256", "updates": 34000, "ppl": 5.32},
      {"series": "Linformer, n=4096, k=256", "updates": 36000, "ppl": 5.2},
      {"series": "Linformer, n=4096, k=256", "updates": 38000, "ppl": 5.1},
      {"series": "Linformer, n=4096, k=256", "updates": 40000, "ppl": 5.02},
      {"series": "Linformer, n=4096, k=256", "updates": 42500, "ppl": 4.92},
      {"series": "Linformer, n=4096, k=256", "updates": 45000, "ppl": 4.85},
      {"series": "Linformer, n=4096, k=256", "updates": 47500, "ppl": 4.78},
      {"series": "Linformer, n=4096, k=256", "updates": 50000, "ppl": 4.72},
      {"series": "Linformer, n=4096, k=256", "updates": 52500, "ppl": 4.66},
      {"series": "Linformer, n=4096, k=256", "updates": 55000, "ppl": 4.6},
      {"series": "Linformer, n=4096, k=256", "updates": 57500, "ppl": 4.55},
      {"series": "Linformer, n=4096, k=256", "updates": 60000, "ppl": 4.5},
      {"series": "Linformer, n=4096, k=256", "updates": 62000, "ppl": 4.46},
      {"series": "Linformer, n=4096, k=256", "updates": 64000, "ppl": 4.42},
      {"series": "Linformer, n=4096, k=256", "updates": 66000, "ppl": 4.37},
      {"series": "Linformer, n=4096, k=256", "updates": 68000, "ppl": 4.33},

      {"series": "Linformer, n=2048, k=256", "updates": 7300, "ppl": 40},
      {"series": "Linformer, n=2048, k=256", "updates": 7700, "ppl": 20.6},
      {"series": "Linformer, n=2048, k=256", "updates": 7950, "ppl": 17.8},
      {"series": "Linformer, n=2048, k=256", "updates": 8600, "ppl": 14.0},
      {"series": "Linformer, n=2048, k=256", "updates": 9500, "ppl": 11.2},
      {"series": "Linformer, n=2048, k=256", "updates": 10500, "ppl": 9.6},
      {"series": "Linformer, n=2048, k=256", "updates": 11000, "ppl": 9.0},
      {"series": "Linformer, n=2048, k=256", "updates": 12000, "ppl": 8.3},
      {"series": "Linformer, n=2048, k=256", "updates": 13000, "ppl": 7.75},
      {"series": "Linformer, n=2048, k=256", "updates": 14000, "ppl": 7.35},
      {"series": "Linformer, n=2048, k=256", "updates": 15000, "ppl": 7.0},
      {"series": "Linformer, n=2048, k=256", "updates": 16500, "ppl": 6.6},
      {"series": "Linformer, n=2048, k=256", "updates": 18000, "ppl": 6.35},
      {"series": "Linformer, n=2048, k=256", "updates": 20000, "ppl": 6.05},
      {"series": "Linformer, n=2048, k=256", "updates": 22500, "ppl": 5.75},
      {"series": "Linformer, n=2048, k=256", "updates": 25000, "ppl": 5.55},
      {"series": "Linformer, n=2048, k=256", "updates": 27500, "ppl": 5.35},
      {"series": "Linformer, n=2048, k=256", "updates": 30000, "ppl": 5.2},
      {"series": "Linformer, n=2048, k=256", "updates": 32500, "ppl": 5.08},
      {"series": "Linformer, n=2048, k=256", "updates": 35000, "ppl": 4.98},
      {"series": "Linformer, n=2048, k=256", "updates": 37500, "ppl": 4.9},
      {"series": "Linformer, n=2048, k=256", "updates": 40000, "ppl": 4.83},
      {"series": "Linformer, n=2048, k=256", "updates": 45000, "ppl": 4.7},
      {"series": "Linformer, n=2048, k=256", "updates": 50000, "ppl": 4.6},
      {"series": "Linformer, n=2048, k=256", "updates": 55000, "ppl": 4.5},
      {"series": "Linformer, n=2048, k=256", "updates": 60000, "ppl": 4.4},
      {"series": "Linformer, n=2048, k=256", "updates": 65000, "ppl": 4.3},
      {"series": "Linformer, n=2048, k=256", "updates": 68000, "ppl": 4.25},

      {"series": "Linformer, n=1024, k=256", "updates": 5500, "ppl": 40},
      {"series": "Linformer, n=1024, k=256", "updates": 5700, "ppl": 14.85},
      {"series": "Linformer, n=1024, k=256", "updates": 7700, "ppl": 9.84},
      {"series": "Linformer, n=1024, k=256", "updates": 9500, "ppl": 7.84},
      {"series": "Linformer, n=1024, k=256", "updates": 11500, "ppl": 6.6},
      {"series": "Linformer, n=1024, k=256", "updates": 13500, "ppl": 5.95},
      {"series": "Linformer, n=1024, k=256", "updates": 15500, "ppl": 5.55},
      {"series": "Linformer, n=1024, k=256", "updates": 17500, "ppl": 5.25},
      {"series": "Linformer, n=1024, k=256", "updates": 20000, "ppl": 4.98},
      {"series": "Linformer, n=1024, k=256", "updates": 22500, "ppl": 4.78},
      {"series": "Linformer, n=1024, k=256", "updates": 25000, "ppl": 4.6},
      {"series": "Linformer, n=1024, k=256", "updates": 27500, "ppl": 4.5},
      {"series": "Linformer, n=1024, k=256", "updates": 30000, "ppl": 4.42},
      {"series": "Linformer, n=1024, k=256", "updates": 35000, "ppl": 4.28},
      {"series": "Linformer, n=1024, k=256", "updates": 40000, "ppl": 4.15},
      {"series": "Linformer, n=1024, k=256", "updates": 45000, "ppl": 4.08},
      {"series": "Linformer, n=1024, k=256", "updates": 50000, "ppl": 4.02},
      {"series": "Linformer, n=1024, k=256", "updates": 55000, "ppl": 3.95},
      {"series": "Linformer, n=1024, k=256", "updates": 60000, "ppl": 3.88},
      {"series": "Linformer, n=1024, k=256", "updates": 65000, "ppl": 3.82},
      {"series": "Linformer, n=1024, k=256", "updates": 68000, "ppl": 3.78},

      {"series": "Linformer, n=512, k=256", "updates": 3600, "ppl": 40},
      {"series": "Linformer, n=512, k=256", "updates": 3850, "ppl": 9.7},
      {"series": "Linformer, n=512, k=256", "updates": 4900, "ppl": 9.1},
      {"series": "Linformer, n=512, k=256", "updates": 7500, "ppl": 6.55},
      {"series": "Linformer, n=512, k=256", "updates": 10000, "ppl": 5.8},
      {"series": "Linformer, n=512, k=256", "updates": 12500, "ppl": 5.4},
      {"series": "Linformer, n=512, k=256", "updates": 15000, "ppl": 5.15},
      {"series": "Linformer, n=512, k=256", "updates": 17500, "ppl": 4.97},
      {"series": "Linformer, n=512, k=256", "updates": 20000, "ppl": 4.83},
      {"series": "Linformer, n=512, k=256", "updates": 25000, "ppl": 4.63},
      {"series": "Linformer, n=512, k=256", "updates": 30000, "ppl": 4.47},
      {"series": "Linformer, n=512, k=256", "updates": 35000, "ppl": 4.33},
      {"series": "Linformer, n=512, k=256", "updates": 40000, "ppl": 4.16},
      {"series": "Linformer, n=512, k=256", "updates": 45000, "ppl": 4.08},
      {"series": "Linformer, n=512, k=256", "updates": 50000, "ppl": 4.03},
      {"series": "Linformer, n=512, k=256", "updates": 55000, "ppl": 3.96},
      {"series": "Linformer, n=512, k=256", "updates": 60000, "ppl": 3.9},
      {"series": "Linformer, n=512, k=256", "updates": 65000, "ppl": 3.85},
      {"series": "Linformer, n=512, k=256", "updates": 68000, "ppl": 3.82}
    ]
  },
  "columns": 2,
  "align": "all",
  "bounds": "flush",
  "spacing": {"row": 64, "column": 76},
  "resolve": {
    "scale": {"color": "independent", "strokeDash": "independent", "x": "independent", "y": "independent"},
    "legend": {"color": "independent", "strokeDash": "independent"}
  },
  "concat": [
    {
      "width": 455, "height": 269,
      "layer": [
        {
          "data": {"name": "a"},
          "mark": {"type": "line", "clip": true},
          "encoding": {
            "x": {"field": "updates", "type": "quantitative", "scale": {"domain": [-12500, 262500], "nice": false, "zero": false}, "axis": {"values": [0, 50000, 100000, 150000, 200000, 250000], "tickCount": 30, "labelExpr": "datum.value / 1000 + 'K'", "labelOverlap": false, "title": "Number of updates"}},
            "y": {"field": "ppl", "type": "quantitative", "scale": {"domain": [2, 10], "nice": false, "zero": false}, "axis": {"values": [2, 3, 4, 5, 6, 7, 8, 9, 10], "tickCount": 30, "format": "d", "labelOverlap": false, "title": "valid ppl"}},
            "color": {"field": "series", "type": "nominal", "scale": {"domain": ["standard transformer, n=512", "Linformer, n=512, k=64", "Linformer, n=512, k=128", "Linformer, n=512, k=256"], "range": ["#348ABD", "#7A68A6", "#A60628", "#467821"]}, "legend": {"title": null}},
            "strokeDash": {"field": "series", "type": "nominal", "scale": {"domain": ["standard transformer, n=512", "Linformer, n=512, k=64", "Linformer, n=512, k=128", "Linformer, n=512, k=256"], "range": [[1, 0], [8, 3.6], [1, 0], [12.5, 3.6, 2.2, 3.6]]}, "legend": {"title": null}}
          }
        },
        {
          "data": {"values": [{"label": "(a)"}]},
          "mark": {"type": "text", "font": "Liberation Serif", "fontSize": 20, "align": "left", "baseline": "alphabetic", "color": "#222222"},
          "encoding": {"x": {"datum": -7300}, "y": {"datum": 2.35}, "text": {"field": "label"}}
        }
      ]
    },
    {
      "width": 455, "height": 269,
      "layer": [
        {
          "data": {"name": "b"},
          "mark": {"type": "line", "clip": true},
          "encoding": {
            "x": {"field": "updates", "type": "quantitative", "scale": {"domain": [-12500, 262500], "nice": false, "zero": false}, "axis": {"values": [0, 50000, 100000, 150000, 200000, 250000], "tickCount": 30, "labelExpr": "datum.value / 1000 + 'K'", "labelOverlap": false, "title": "Number of updates"}},
            "y": {"field": "ppl", "type": "quantitative", "scale": {"domain": [2, 15], "nice": false, "zero": false}, "axis": {"values": [2, 4, 6, 8, 10, 12, 14], "tickCount": 30, "format": "d", "labelOverlap": false, "title": "valid ppl"}},
            "color": {"field": "series", "type": "nominal", "scale": {"domain": ["standard transformer, n=1024", "Linformer, n=1024, k=256", "Linformer, n=1024, k=128"], "range": ["#348ABD", "#7A68A6", "#A60628"]}, "legend": {"title": null}},
            "strokeDash": {"field": "series", "type": "nominal", "scale": {"domain": ["standard transformer, n=1024", "Linformer, n=1024, k=256", "Linformer, n=1024, k=128"], "range": [[1, 0], [8, 3.6], [12.5, 3.6, 2.2, 3.6]]}, "legend": {"title": null}}
          }
        },
        {
          "data": {"values": [{"label": "(b)"}]},
          "mark": {"type": "text", "font": "Liberation Serif", "fontSize": 20, "align": "left", "baseline": "alphabetic", "color": "#222222"},
          "encoding": {"x": {"datum": -9000}, "y": {"datum": 2.6}, "text": {"field": "label"}}
        }
      ]
    },
    {
      "width": 455, "height": 269,
      "layer": [
        {
          "data": {"name": "c"},
          "mark": {"type": "line", "clip": true},
          "encoding": {
            "x": {"field": "updates", "type": "quantitative", "scale": {"domain": [50000, 250000], "nice": false, "zero": false}, "axis": {"values": [50000, 100000, 150000, 200000, 250000], "tickCount": 30, "labelExpr": "datum.value / 1000 + 'K'", "labelOverlap": false, "title": "Number of updates"}},
            "y": {"field": "ppl", "type": "quantitative", "scale": {"domain": [3.0, 4.5], "nice": false, "zero": false}, "axis": {"values": [3.0, 3.2, 3.4, 3.6, 3.8, 4.0, 4.2, 4.4], "tickCount": 30, "format": ".1f", "labelOverlap": false, "title": "valid ppl"}},
            "color": {"field": "series", "type": "nominal", "scale": {"domain": ["Layerwise sharing", "Headwise sharing", "Key-value sharing"], "range": ["#348ABD", "#7A68A6", "#A60628"]}, "legend": {"title": null}},
            "strokeDash": {"field": "series", "type": "nominal", "scale": {"domain": ["Layerwise sharing", "Headwise sharing", "Key-value sharing"], "range": [[1, 0], [8, 3.6], [12.5, 3.6, 2.2, 3.6]]}, "legend": {"title": null}}
          }
        },
        {
          "data": {"values": [{"label": "(c)"}]},
          "mark": {"type": "text", "font": "Liberation Serif", "fontSize": 20, "align": "left", "baseline": "alphabetic", "color": "#222222"},
          "encoding": {"x": {"datum": 52800}, "y": {"datum": 3.05}, "text": {"field": "label"}}
        }
      ]
    },
    {
      "width": 455, "height": 269,
      "layer": [
        {
          "data": {"name": "d"},
          "mark": {"type": "line", "clip": true},
          "encoding": {
            "x": {"field": "updates", "type": "quantitative", "scale": {"domain": [0, 68000], "nice": false, "zero": false}, "axis": {"values": [0, 10000, 20000, 30000, 40000, 50000, 60000], "tickCount": 30, "labelExpr": "datum.value / 1000 + 'K'", "labelOverlap": false, "title": "Number of updates"}},
            "y": {"field": "ppl", "type": "quantitative", "scale": {"domain": [2, 25], "nice": false, "zero": false}, "axis": {"values": [5, 10, 15, 20, 25], "tickCount": 30, "format": "d", "labelOverlap": false, "title": "valid ppl"}},
            "color": {"field": "series", "type": "nominal", "scale": {"domain": ["Linformer, n=4096, k=256", "Linformer, n=2048, k=256", "Linformer, n=1024, k=256", "Linformer, n=512, k=256"], "range": ["#348ABD", "#7A68A6", "#A60628", "#467821"]}, "legend": {"title": null}},
            "strokeDash": {"field": "series", "type": "nominal", "scale": {"domain": ["Linformer, n=4096, k=256", "Linformer, n=2048, k=256", "Linformer, n=1024, k=256", "Linformer, n=512, k=256"], "range": [[1, 0], [8, 3.6], [1, 0], [12.5, 3.6, 2.2, 3.6]]}, "legend": {"title": null}}
          }
        },
        {
          "data": {"values": [{"label": "(d)"}]},
          "mark": {"type": "text", "font": "Liberation Serif", "fontSize": 20, "align": "left", "baseline": "alphabetic", "color": "#222222"},
          "encoding": {"x": {"datum": 900}, "y": {"datum": 3.0}, "text": {"field": "label"}}
        }
      ]
    }
  ]
}
